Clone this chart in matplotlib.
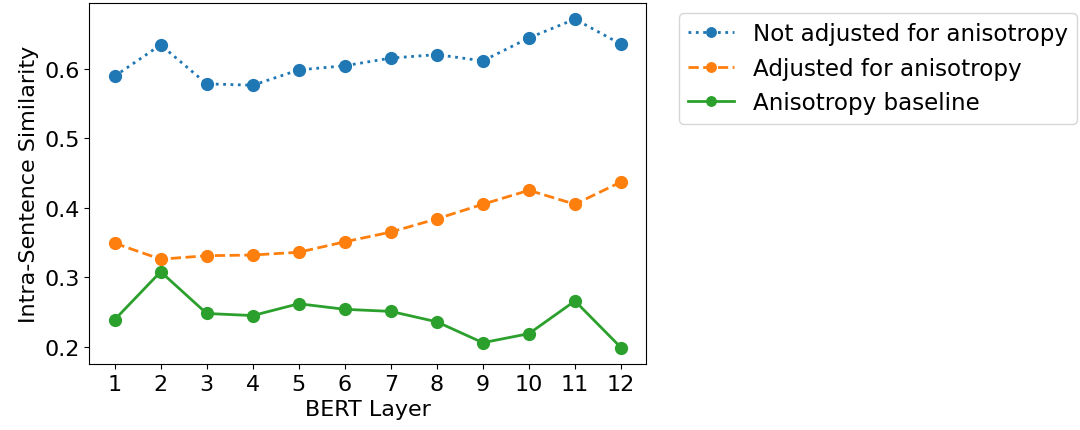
import matplotlib
matplotlib.use("Agg")
import matplotlib.pyplot as plt

layers = list(range(1, 13))
not_adjusted = [0.589, 0.634, 0.578, 0.576, 0.598, 0.604, 0.615, 0.620, 0.611, 0.644, 0.671, 0.635]
adjusted = [0.349, 0.326, 0.331, 0.332, 0.336, 0.351, 0.365, 0.384, 0.405, 0.425, 0.405, 0.437]
baseline = [0.239, 0.308, 0.248, 0.245, 0.262, 0.254, 0.251, 0.236, 0.206, 0.219, 0.266, 0.199]

plt.rcParams["font.family"] = ["DejaVu Sans"]
plt.rcParams["font.size"] = 16

W, H = 1080, 431
fig = plt.figure(figsize=(W / 100, H / 100), dpi=100)
left, right, top, bottom = 89.3, 646.3, 3.7, 365.0
ax = fig.add_axes([left / W, (H - bottom) / H, (right - left) / W, (bottom - top) / H])

ax.plot(layers, not_adjusted, ":", marker="o", color="#1f77b4", lw=2, ms=8.5,
        label="Not adjusted for anisotropy")
ax.plot(layers, adjusted, "--", marker="o", color="#ff7f0e", lw=2, ms=8.5,
        label="Adjusted for anisotropy")
ax.plot(layers, baseline, "-", marker="o", color="#2ca02c", lw=2, ms=8.5,
        label="Anisotropy baseline")

ax.set_xticks(layers)
ax.set_yticks([0.2, 0.3, 0.4, 0.5, 0.6])
ax.set_xlabel("BERT Layer")
ax.set_ylabel("Intra-Sentence Similarity")

ax.legend(loc="upper left", bbox_to_anchor=(1.04, 1.0), fontsize=16.6,
          markerscale=0.8, borderaxespad=0.45)

fig.savefig("out.png", dpi=100)
